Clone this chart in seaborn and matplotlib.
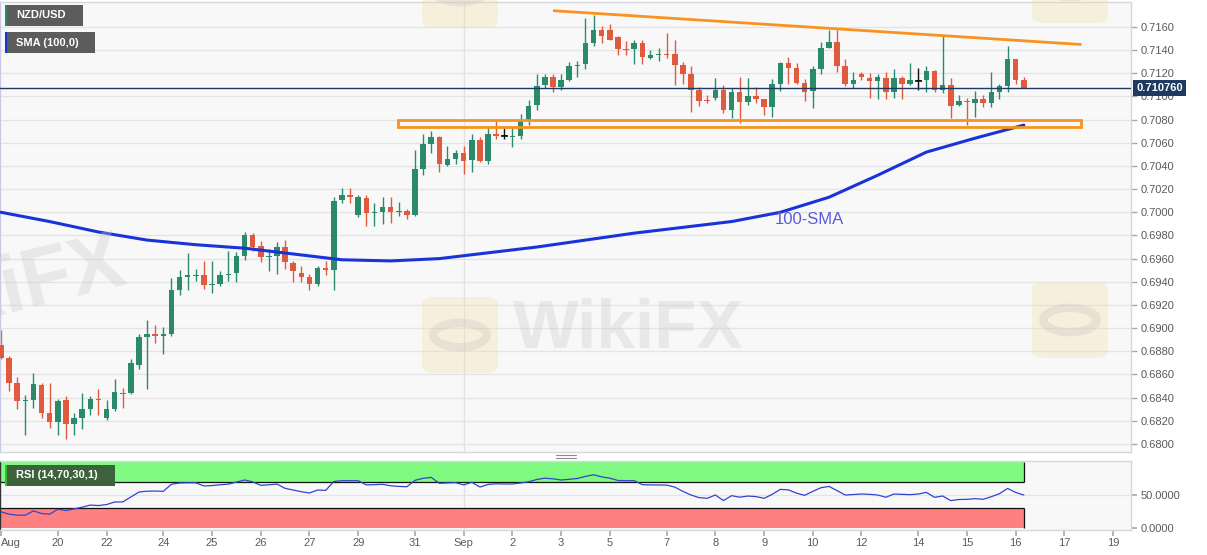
import matplotlib
matplotlib.use("Agg")
import matplotlib.pyplot as plt
import matplotlib.transforms as mtrans
from matplotlib.patches import Rectangle, FancyBboxPatch, Circle
from matplotlib.lines import Line2D
import numpy as np
import pandas as pd
import seaborn as sns

# 4H candles, NZD/USD, Aug 19 - Sep 16
opens = [
    0.6885, 0.6874, 0.6853, 0.6837, 0.6838, 0.6851, 0.6827, 0.6819, 0.6838, 0.6817,
    0.6822, 0.6830, 0.6839, 0.6822, 0.6830, 0.6844, 0.6844, 0.6868, 0.6892, 0.6895,
    0.6893, 0.6895, 0.6933, 0.6944, 0.6945, 0.6946, 0.6937, 0.6938, 0.6946, 0.6948,
    0.6962, 0.6980, 0.6971, 0.6961, 0.6962, 0.6970, 0.6956, 0.6948, 0.6944, 0.6938,
    0.6952, 0.6950, 0.7011, 0.7015, 0.6998, 0.7012, 0.6999, 0.7000, 0.7005, 0.7000,
    0.7001, 0.6998, 0.7037, 0.7059, 0.7065, 0.7041, 0.7046, 0.7051, 0.7045, 0.7062,
    0.7044, 0.7068, 0.7066, 0.7065, 0.7066, 0.7080, 0.7093, 0.7110, 0.7117, 0.7108,
    0.7114, 0.7126, 0.7128, 0.7146, 0.7157, 0.7157, 0.7151, 0.7141, 0.7141, 0.7146,
    0.7133, 0.7136, 0.7137, 0.7137, 0.7127, 0.7119, 0.7106, 0.7097, 0.7099, 0.7106,
    0.7088, 0.7104, 0.7095, 0.7100, 0.7098, 0.7091, 0.7111, 0.7129, 0.7125, 0.7112,
    0.7105, 0.7124, 0.7142, 0.7147, 0.7126, 0.7111, 0.7119, 0.7116, 0.7113, 0.7116,
    0.7104, 0.7116, 0.7111, 0.7113, 0.7114, 0.7122, 0.7106, 0.7110, 0.7093, 0.7096,
    0.7094, 0.7098, 0.7094, 0.7104, 0.7109, 0.7132, 0.7114]
highs = [
    0.6898, 0.6876, 0.6858, 0.6842, 0.6861, 0.6853, 0.6853, 0.6839, 0.6841, 0.6827,
    0.6844, 0.6841, 0.6847, 0.6838, 0.6856, 0.6848, 0.6873, 0.6895, 0.6907, 0.6903,
    0.6901, 0.6943, 0.6950, 0.6965, 0.6951, 0.6958, 0.6958, 0.6949, 0.6967, 0.6966,
    0.6983, 0.6982, 0.6975, 0.6968, 0.6974, 0.6976, 0.6958, 0.6954, 0.6947, 0.6954,
    0.6958, 0.7013, 0.7021, 0.7021, 0.7015, 0.7015, 0.7008, 0.7013, 0.7013, 0.7009,
    0.7003, 0.7054, 0.7068, 0.7070, 0.7066, 0.7057, 0.7054, 0.7057, 0.7068, 0.7065,
    0.7073, 0.7079, 0.7073, 0.7073, 0.7085, 0.7097, 0.7119, 0.7119, 0.7119, 0.7119,
    0.7130, 0.7131, 0.7168, 0.7170, 0.7161, 0.7163, 0.7152, 0.7148, 0.7149, 0.7149,
    0.7140, 0.7142, 0.7155, 0.7149, 0.7130, 0.7126, 0.7108, 0.7101, 0.7116, 0.7110,
    0.7107, 0.7117, 0.7116, 0.7108, 0.7098, 0.7115, 0.7130, 0.7134, 0.7129, 0.7115,
    0.7126, 0.7147, 0.7157, 0.7157, 0.7132, 0.7121, 0.7121, 0.7120, 0.7119, 0.7121,
    0.7124, 0.7118, 0.7129, 0.7125, 0.7126, 0.7123, 0.7152, 0.7116, 0.7101, 0.7099,
    0.7105, 0.7101, 0.7121, 0.7111, 0.7144, 0.7132, 0.7117]
lows = [
    0.6873, 0.6846, 0.6830, 0.6808, 0.6831, 0.6822, 0.6814, 0.6808, 0.6804, 0.6808,
    0.6813, 0.6825, 0.6825, 0.6821, 0.6828, 0.6831, 0.6843, 0.6865, 0.6847, 0.6887,
    0.6878, 0.6893, 0.6929, 0.6933, 0.6941, 0.6934, 0.6930, 0.6936, 0.6941, 0.6940,
    0.6959, 0.6967, 0.6957, 0.6949, 0.6947, 0.6951, 0.6940, 0.6940, 0.6933, 0.6936,
    0.6946, 0.6933, 0.7008, 0.7008, 0.6996, 0.6988, 0.6988, 0.6990, 0.6991, 0.6997,
    0.6994, 0.6997, 0.7032, 0.7051, 0.7035, 0.7040, 0.7042, 0.7033, 0.7035, 0.7043,
    0.7042, 0.7063, 0.7063, 0.7056, 0.7063, 0.7075, 0.7088, 0.7107, 0.7104, 0.7106,
    0.7113, 0.7117, 0.7124, 0.7144, 0.7146, 0.7149, 0.7136, 0.7136, 0.7128, 0.7128,
    0.7132, 0.7131, 0.7133, 0.7110, 0.7111, 0.7087, 0.7092, 0.7094, 0.7097, 0.7086,
    0.7081, 0.7077, 0.7093, 0.7094, 0.7084, 0.7082, 0.7105, 0.7111, 0.7111, 0.7096,
    0.7090, 0.7119, 0.7142, 0.7121, 0.7109, 0.7107, 0.7114, 0.7099, 0.7098, 0.7098,
    0.7099, 0.7098, 0.7110, 0.7106, 0.7104, 0.7104, 0.7103, 0.7081, 0.7092, 0.7075,
    0.7082, 0.7091, 0.7091, 0.7098, 0.7104, 0.7111, 0.7108]
closes = [
    0.6874, 0.6853, 0.6837, 0.6838, 0.6852, 0.6827, 0.6819, 0.6837, 0.6817, 0.6822,
    0.6830, 0.6839, 0.6838, 0.6830, 0.6845, 0.6843, 0.6870, 0.6892, 0.6895, 0.6893,
    0.6895, 0.6933, 0.6944, 0.6946, 0.6946, 0.6937, 0.6938, 0.6946, 0.6947, 0.6962,
    0.6980, 0.6970, 0.6961, 0.6962, 0.6970, 0.6957, 0.6949, 0.6944, 0.6938, 0.6952,
    0.6950, 0.7010, 0.7015, 0.7013, 0.7013, 0.6999, 0.7000, 0.7005, 0.7000, 0.7001,
    0.6998, 0.7037, 0.7059, 0.7065, 0.7042, 0.7046, 0.7051, 0.7044, 0.7062, 0.7044,
    0.7068, 0.7066, 0.7066, 0.7066, 0.7079, 0.7092, 0.7109, 0.7117, 0.7108, 0.7114,
    0.7126, 0.7127, 0.7146, 0.7157, 0.7152, 0.7149, 0.7141, 0.7140, 0.7146, 0.7134,
    0.7136, 0.7137, 0.7136, 0.7127, 0.7119, 0.7106, 0.7096, 0.7096, 0.7106, 0.7088,
    0.7104, 0.7095, 0.7100, 0.7098, 0.7091, 0.7111, 0.7129, 0.7125, 0.7112, 0.7104,
    0.7124, 0.7142, 0.7147, 0.7126, 0.7111, 0.7114, 0.7117, 0.7113, 0.7117, 0.7104,
    0.7116, 0.7111, 0.7114, 0.7113, 0.7122, 0.7106, 0.7110, 0.7092, 0.7096, 0.7095,
    0.7098, 0.7094, 0.7104, 0.7109, 0.7132, 0.7114, 0.71076]
rsi = [
    24.5, 21, 19.5, 19.5, 26, 22, 21, 28.5, 26.5, 29,
    31.5, 34.8, 34, 35.5, 39.4, 39.5, 47, 54.5, 55.8, 56,
    55.6, 66.3, 68.2, 68.5, 68.5, 63.7, 64.3, 65.5, 66.5, 69.5,
    72.7, 70, 64.6, 65.5, 66.5, 60.1, 57.5, 55, 53, 57.6,
    57, 70.5, 71.7, 71.7, 71.7, 65.3, 65.7, 66.2, 64, 63,
    62.5, 72.2, 75.3, 76.7, 67.7, 68.3, 68.7, 65.3, 69.2, 62.1,
    66, 67, 66.7, 66.7, 68.2, 70, 73.5, 75.5, 74.5, 72.7,
    73.8, 75, 78.2, 80.6, 77.5, 75.5, 72, 71.7, 71.7, 65.7,
    65.3, 65.2, 65, 62, 55.5, 50, 46, 45, 50, 41.6,
    49, 46.7, 48.4, 47.6, 45, 51, 58.5, 57.8, 52.8, 49.5,
    55.5, 61, 63, 56.6, 50, 50.7, 51.5, 51, 50, 46.6,
    51.5, 51, 50.5, 51.5, 54, 46.5, 48.5, 41.5, 43.2, 43.4,
    44.5, 43.5, 47.5, 52, 60, 53.8, 50]

# 100-SMA read every 6th candle
sma_candle = [0, 6, 12, 18, 24, 30, 36, 42, 48, 54, 60, 66, 72, 78, 84, 90, 96, 102, 108, 114, 120, 126]
sma_100 = [0.7000, 0.6992, 0.6983, 0.6976, 0.6972, 0.6969, 0.6964, 0.6959, 0.6958, 0.6960, 0.6965,
           0.6970, 0.6976, 0.6982, 0.6987, 0.6992, 0.7000, 0.7013, 0.7032, 0.7052, 0.7064, 0.70753]

day_labels = ["Aug", "20", "22", "24", "25", "26", "27", "29", "31", "Sep", "2", "3",
              "5", "7", "8", "9", "10", "12", "14", "15", "16", "17", "19"]
day_first_candle = [0, 7, 13, 20, 26, 32, 38, 44, 51, 57, 63, 69,
                    75, 82, 88, 94, 100, 106, 113, 119, 125, 131, 137]

last_price = 0.710760
trend_candles = [68, 133.1]
trend_prices = [0.71741, 0.71449]
zone_candles = [48.9, 133.1]
zone_prices = [0.70737, 0.70794]

df = pd.DataFrame({"open": opens, "high": highs, "low": lows, "close": closes, "rsi": rsi})
df["i"] = np.arange(len(df))

sns.set_theme(style="white")
plt.rcParams["font.family"] = ["Liberation Sans", "DejaVu Sans"]

W, H = 1207, 555
fig = plt.figure(figsize=(W / 100, H / 100), dpi=100)
fig.patch.set_facecolor("white")

def fx(px):
    return px / W

def fy(py):
    return 1 - py / H

ax = fig.add_axes([0, fy(452), fx(1131), (452 - 2) / H])
ax2 = fig.add_axes([0, fy(530), fx(1131), (530 - 461) / H])

GREEN = "#2b8a6c"
RED = "#e05a3e"
GRID = "#e4e4e4"
TXT = "#5a5a5a"
xlim = (-0.12, 139.2)

for a in (ax, ax2):
    a.set_facecolor("#f8f8f8")
    a.set_xlim(*xlim)
    for s in a.spines.values():
        s.set_color("#d6d6de")
        s.set_linewidth(1)

# main panel
ax.set_ylim(0.67930, 0.71816)
levels = np.round(np.arange(0.680, 0.7161, 0.002), 4)
for lv in levels:
    ax.axhline(lv, color=GRID, lw=1, zorder=0)
ax.axvline(57, color="#e2e2e2", lw=1, zorder=0)

up = df[df.close > df.open]
dn = df[df.close < df.open]
flat = df[df.close == df.open]
for part, col in ((up, GREEN), (dn, RED), (flat, "#111111")):
    ax.vlines(part.i, part.low, part.high, color=col, lw=1.0, zorder=2)
    body = np.maximum((part.close - part.open).abs(), 0.00009)
    ax.bar(part.i, body, bottom=np.minimum(part.open, part.close), width=0.68,
           color=col, edgecolor="none", zorder=3)
ax.hlines(flat.close, flat.i - 0.4, flat.i + 0.4, color="#111111", lw=1.2, zorder=3)

sns.lineplot(x=sma_candle, y=sma_100, ax=ax, color="#1a33d9", lw=2.2, zorder=4)
ax.text(95.3, 0.70005, "100-SMA", color="#5b5bdc", fontsize=12, va="top", ha="left", zorder=5)

ax.plot(trend_candles, trend_prices, color="#f7931e", lw=2, zorder=5, solid_capstyle="butt")
ax.add_patch(Rectangle((zone_candles[0], zone_prices[0]), zone_candles[1] - zone_candles[0],
                       zone_prices[1] - zone_prices[0], fill=False, ec="#f7931e", lw=2, zorder=5))
ax.axhline(last_price, color="#1f3a60", lw=1, zorder=5)

ax.yaxis.tick_right()
ax.set_yticks(levels)
ax.set_yticklabels([f"{v:.4f}" for v in levels])
ax.tick_params(axis="y", right=True, length=4, width=1, color="#aaaaaa", labelsize=8,
               labelcolor=TXT, pad=3)
ax.tick_params(axis="x", bottom=False, labelbottom=False)
ax.set_xlabel("")
ax.set_ylabel("")
ax.spines["left"].set_color("#c9c9e3")

blend = mtrans.blended_transform_factory(ax.transAxes, ax.transData)
ax.text(1.0045, last_price, "0.710760", transform=blend, ha="left", va="center",
        fontsize=8, color="white", fontweight="bold", zorder=10,
        bbox=dict(boxstyle="square,pad=0.28", fc="#1f3a60", ec="none"))

# RSI panel
ax2.set_ylim(-3, 101.5)
ax2.axhline(50, color=GRID, lw=1, zorder=0)
ax2.axvline(57, color="#e2e2e2", lw=1, zorder=0)
ax2.add_patch(Rectangle((xlim[0], 70), 126 - xlim[0], 30, fc="#80f980", ec="none", zorder=1))
ax2.add_patch(Rectangle((xlim[0], 0), 126 - xlim[0], 30, fc="#ff8080", ec="none", zorder=1))
ax2.hlines([70, 30], xlim[0], 126, color="#111111", lw=0.9, zorder=2)
ax2.vlines(126, 70, 100, color="#111111", lw=0.9, zorder=2)
ax2.vlines(126, 0, 30, color="#111111", lw=0.9, zorder=2)
sns.lineplot(data=df, x="i", y="rsi", ax=ax2, color="#3344cc", lw=0.9, zorder=3)
ax2.spines["left"].set_color("#333333")
ax2.yaxis.tick_right()
ax2.set_yticks([0, 50])
ax2.set_yticklabels(["0.0000", "50.0000"])
ax2.set_xticks(day_first_candle)
ax2.set_xticklabels(day_labels)
ax2.get_xticklabels()[0].set_horizontalalignment("left")
ax2.tick_params(axis="y", right=True, length=4, color="#aaaaaa", labelsize=8, labelcolor=TXT, pad=3)
ax2.tick_params(axis="x", bottom=True, length=4, color="#aaaaaa", labelsize=8, labelcolor=TXT, pad=2)
ax2.set_xlabel("")
ax2.set_ylabel("")

# legend tags
def tag(x0, x1, y0, y1, text, fc, stripe):
    fig.add_artist(Rectangle((fx(x0), fy(y1)), fx(x1 - x0), (y1 - y0) / H,
                             transform=fig.transFigure, fc=fc, ec="none", zorder=20))
    fig.add_artist(Rectangle((fx(x0), fy(y1)), fx(2), (y1 - y0) / H,
                             transform=fig.transFigure, fc=stripe, ec="none", zorder=21))
    fig.text(fx(x0 + 11), fy((y0 + y1) / 2), text, color="white", fontsize=8,
             fontweight="bold", va="center", ha="left", zorder=22)

tag(5, 83, 5, 26, "NZD/USD", "#5c5c5c", GREEN)
tag(5, 95, 32, 53, "SMA (100,0)", "#5c5c5c", "#1a33d9")
tag(5, 115, 465, 486, "RSI (14,70,30,1)", "#3d613d", "#2fbf2f")

# panel drag handle
for yy in (455, 457.5):
    fig.add_artist(Line2D([fx(556), fx(576)], [fy(yy), fy(yy)], transform=fig.transFigure,
                          color="#8c8c8c", lw=0.8))

# faint watermarks
for cx, cy in ((460, 335), (1070, 320), (460, -10), (1070, -15)):
    fig.add_artist(FancyBboxPatch((fx(cx - 38), fy(cy + 38)), fx(76), 76 / H,
                                  boxstyle="round,pad=0,rounding_size=0.012",
                                  transform=fig.transFigure, fc="#f1dfa8", ec="none",
                                  alpha=0.35, zorder=15))
    fig.add_artist(Circle((fx(cx), fy(cy)), 0.022, transform=fig.transFigure,
                          fc="none", ec="#c8c0c0", lw=6, alpha=0.3, zorder=15))
fig.text(fx(628), fy(330), "WikiFX", fontsize=50, fontweight="bold", color="#cfc8c8",
         alpha=0.35, ha="center", va="center", zorder=15)
fig.text(fx(-5), fy(295), "WikiFX", fontsize=58, fontweight="bold", color="#cfc8c8",
         alpha=0.35, ha="center", va="center", rotation=14, zorder=15)

fig.savefig("out.png", dpi=100, facecolor="white")
